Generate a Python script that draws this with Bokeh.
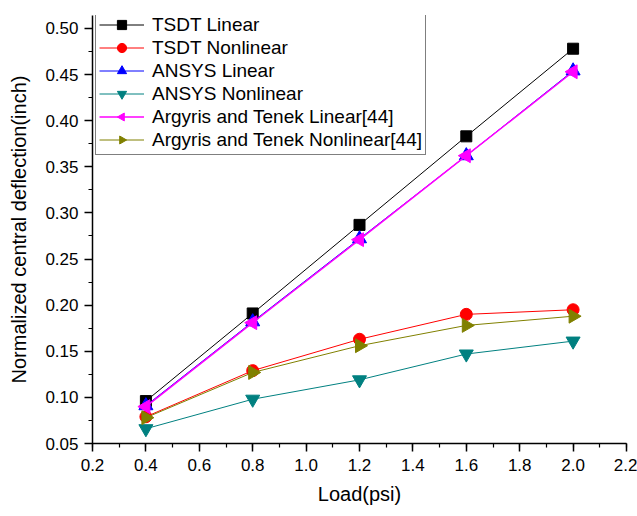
import math
from bokeh.plotting import figure
from bokeh.models import Range1d, SingleIntervalTicker, NumeralTickFormatter, Legend
from bokeh.embed import file_html
from bokeh.resources import INLINE

load = [0.4, 0.8, 1.2, 1.6, 2.0]
tsdt_linear = [0.096, 0.191, 0.287, 0.383, 0.478]
tsdt_nonlinear = [0.079, 0.129, 0.163, 0.190, 0.195]
ansys_linear = [0.091, 0.182, 0.272, 0.362, 0.454]
ansys_nonlinear = [0.066, 0.098, 0.119, 0.147, 0.161]
argyris_linear = [0.090, 0.181, 0.271, 0.362, 0.453]
argyris_nonlinear = [0.078, 0.127, 0.156, 0.178, 0.188]

FONT = "Liberation Sans"

p = figure(width=637, height=516, output_backend="svg", toolbar_location=None,
           x_range=Range1d(0.2, 2.2), y_range=Range1d(0.05, 0.514),
           min_border_left=92, min_border_right=11, min_border_top=15, min_border_bottom=73)
p.background_fill_color = "white"
p.border_fill_color = "white"
p.outline_line_color = None
p.xgrid.visible = False
p.ygrid.visible = False

series = [
    ("TSDT Linear", tsdt_linear, "#000000", "square", None, 11),
    ("TSDT Nonlinear", tsdt_nonlinear, "#FF0000", "circle", None, 12),
    ("ANSYS Linear", ansys_linear, "#0000FF", "triangle", None, 14),
    ("ANSYS Nonlinear", ansys_nonlinear, "#008080", "inverted_triangle", None, 14),
    ("Argyris and Tenek Linear[44]", argyris_linear, "#FF00FF", None, math.pi / 2, 8),
    ("Argyris and Tenek Nonlinear[44]", argyris_nonlinear, "#808000", None, -math.pi / 2, 8),
]

items = []
for name, vals, color, marker, ang, size in series:
    lw = 1.5 if color == "#FF00FF" else 1
    r1 = p.line(load, vals, line_color=color, line_width=lw)
    if marker is not None:
        r2 = p.scatter(load, vals, marker=marker, size=size,
                       fill_color=color, line_color=color)
    else:
        r2 = p.ngon(load, vals, radius=size, radius_units="screen", n=3, angle=ang,
                    fill_color=color, line_color=color)
    items.append((name, [r1, r2]))

legend = Legend(items=items, location=(3, 288), orientation="vertical")
legend.label_text_font = FONT
legend.label_text_font_size = "19px"
legend.label_text_color = "#000000"
legend.glyph_width = 45
legend.glyph_height = 23
legend.label_height = 20
legend.spacing = 0
legend.padding = 3
legend.margin = 0
legend.label_standoff = 8
legend.border_line_color = "#000000"
legend.border_line_width = 1
legend.background_fill_color = "white"
legend.background_fill_alpha = 1
p.add_layout(legend, "center")

p.xaxis.ticker = SingleIntervalTicker(interval=0.2, num_minor_ticks=2)
p.yaxis.ticker = SingleIntervalTicker(interval=0.05, num_minor_ticks=2)
p.xaxis.formatter = NumeralTickFormatter(format="0.0")
p.yaxis.formatter = NumeralTickFormatter(format="0.00")
for ax in (p.xaxis, p.yaxis):
    ax.axis_line_width = 1.5
    ax.axis_line_color = "#000000"
    ax.major_tick_line_color = "#000000"
    ax.minor_tick_line_color = "#000000"
    ax.major_tick_line_width = 1.5
    ax.minor_tick_line_width = 1.2
    ax.major_tick_in = 0
    ax.major_tick_out = 8
    ax.minor_tick_in = 0
    ax.minor_tick_out = 4
    ax.major_label_text_font = FONT
    ax.major_label_text_font_size = "17px"
    ax.major_label_text_color = "#000000"
    ax.axis_label_text_font = FONT
    ax.axis_label_text_font_size = "20px"
    ax.axis_label_text_font_style = "normal"
    ax.axis_label_text_color = "#000000"

p.xaxis.axis_label = "Load(psi)"
p.yaxis.axis_label = "Normalized central deflection(inch)"
p.xaxis.axis_label_standoff = 9
p.yaxis.axis_label_standoff = 12
p.xaxis.major_label_standoff = 7
p.yaxis.major_label_standoff = 6

open("out.html", "w").write(file_html(p, INLINE))
